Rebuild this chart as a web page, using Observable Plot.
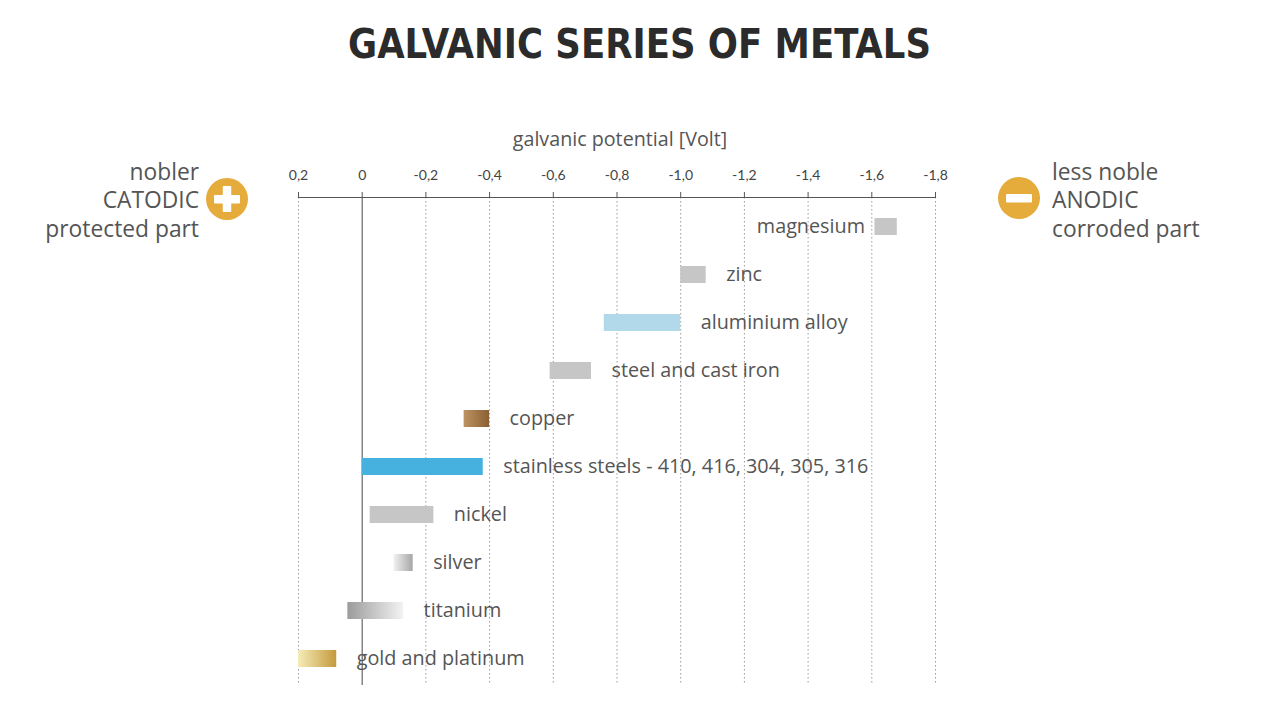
<!DOCTYPE html>
<html>
<head>
<meta charset="utf-8">
<script src="https://cdn.jsdelivr.net/npm/d3@7"></script>
<script src="https://cdn.jsdelivr.net/npm/@observablehq/plot@0.6"></script>
<style>
  html, body { margin: 0; padding: 0; background: #fff; }
  #wrap { position: relative; width: 1280px; height: 720px; overflow: hidden; background: #fff; font-family: "Open Sans", Lato, sans-serif; }
  #wrap > * { position: absolute; }
  .side { font-size: 22.8px; color: #555; line-height: 28.3px; }
  #left { right: 1081px; top: 158px; text-align: right; }
  #right { left: 1052px; top: 158px; text-align: left; }
</style>
</head>
<body>
<svg width="0" height="0" style="position:absolute">
  <defs>
    <linearGradient id="g-copper" x1="0" x2="1" y1="0" y2="0">
      <stop offset="0" stop-color="#bd9463"/><stop offset="1" stop-color="#8a5f33"/>
    </linearGradient>
    <linearGradient id="g-silver" x1="0" x2="1" y1="0" y2="0">
      <stop offset="0" stop-color="#f2f2f2"/><stop offset="1" stop-color="#a6a6a6"/>
    </linearGradient>
    <linearGradient id="g-titanium" x1="0" x2="1" y1="0" y2="0">
      <stop offset="0" stop-color="#9b9b9b"/><stop offset="1" stop-color="#f3f3f3"/>
    </linearGradient>
    <linearGradient id="g-gold" x1="0" x2="1" y1="0" y2="0">
      <stop offset="0" stop-color="#f6ecb8"/><stop offset="1" stop-color="#c49a3c"/>
    </linearGradient>
  </defs>
</svg>
<div id="wrap">
  <svg id="title" width="1280" height="80" style="left:0;top:0">
    <text x="348" y="58" textLength="583" lengthAdjust="spacingAndGlyphs"
      font-family="'DejaVu Sans Condensed', 'Liberation Sans Narrow', sans-serif" font-weight="bold"
      font-size="41" fill="#2b2b2b">GALVANIC SERIES OF METALS</text>
  </svg>
  <div id="chart" style="left:0;top:0"></div>
  <div id="left" class="side">nobler<br>CATODIC<br>protected part</div>
  <svg width="46" height="46" style="left:204px;top:176px">
    <circle cx="23" cy="23" r="21" fill="#e5ab3b"/>
    <rect x="10" y="19" width="26" height="8.5" rx="1" fill="#fff"/>
    <rect x="18.75" y="10" width="8.5" height="26" rx="1" fill="#fff"/>
  </svg>
  <svg width="46" height="46" style="left:996px;top:175px">
    <circle cx="23" cy="23" r="21" fill="#e5ab3b"/>
    <rect x="10" y="19" width="26" height="8.5" rx="1" fill="#fff"/>
  </svg>
  <div id="right" class="side">less noble<br>ANODIC<br>corroded part</div>
</div>
<script>
// ---- data ----
const metals = ["magnesium", "zinc", "aluminium alloy", "steel and cast iron", "copper",
  "stainless steels - 410, 416, 304, 305, 316", "nickel", "silver", "titanium", "gold and platinum"];
const potentialFrom = [-1.61, -1.00, -0.76, -0.59, -0.32, 0.00, -0.025, -0.10, 0.045, 0.20];
const potentialTo   = [-1.68, -1.08, -1.00, -0.72, -0.40, -0.38, -0.225, -0.16, -0.13, 0.08];
const barColors = ["#c6c6c6", "#c6c6c6", "#b2d9ea", "#c6c6c6", "url(#g-copper)", "#46b0de",
  "#c6c6c6", "url(#g-silver)", "url(#g-titanium)", "url(#g-gold)"];
const tickValues = [0.2, 0, -0.2, -0.4, -0.6, -0.8, -1.0, -1.2, -1.4, -1.6, -1.8];
const axisTitle = "galvanic potential [Volt]";

const rows = metals.map((m, i) => ({
  name: m, from: potentialFrom[i], to: potentialTo[i], color: barColors[i]
}));
const fmt = d => d === 0 ? "0" : d.toFixed(1).replace(".", ",");

const font = "'Open Sans', Lato, sans-serif";
const labelSize = 19.8;
const chart = Plot.plot({
  width: 1280, height: 720,
  marginLeft: 298, marginRight: 345, marginTop: 197, marginBottom: 35,
  style: { fontFamily: font, background: "transparent", color: "#444" },
  x: { domain: [0.2, -1.8] },
  y: { type: "band", domain: metals, range: [201, 683], paddingInner: 0.65, paddingOuter: 0.325, axis: null },
  marks: [
    Plot.ruleX(tickValues.filter(d => d !== 0), { stroke: "#9a9a9a", strokeDasharray: "1.5,2.5", strokeWidth: 1 }),
    Plot.ruleX([0], { stroke: "#666", strokeWidth: 1.2 }),
    Plot.frame({ anchor: "top", stroke: "#555", strokeWidth: 1.2 }),
    Plot.axisX({ anchor: "top", ticks: tickValues, tickFormat: fmt, tickSize: 6, tickPadding: 12,
      fontSize: 14, fontFamily: "Lato, sans-serif", label: null, stroke: "#555", color: "#444" }),
    Plot.text([axisTitle], { frameAnchor: "top", dy: -66, dx: 3, fontSize: 19.7, fill: "#555" }),
    Plot.barX(rows, { x1: "from", x2: "to", y: "name", fill: d => d.color }),
    Plot.text(rows, {
      x: "to", y: "name", text: "name", textAnchor: "start", fontSize: labelSize, fill: "#555",
      filter: d => !(d.to < -1.5), dx: 20
    }),
    Plot.text(rows, {
      x: "from", y: "name", text: "name", textAnchor: "end", fontSize: labelSize, fill: "#555",
      filter: d => d.to < -1.5, dx: -10
    })
  ]
});
document.getElementById("chart").appendChild(chart);
</script>
</body>
</html>
